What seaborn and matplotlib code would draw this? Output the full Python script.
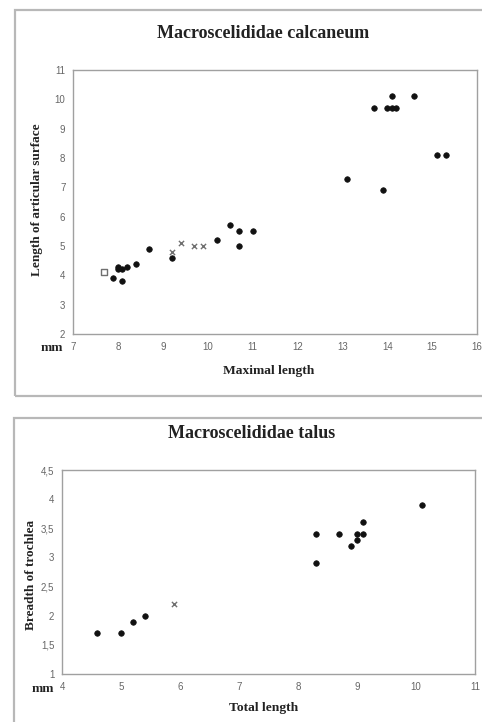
import matplotlib
matplotlib.use("Agg")
import matplotlib.pyplot as plt
import seaborn as sns
import pandas as pd
from matplotlib.patches import Rectangle

# ---- data: calcaneum ----
calc_dot_x = [7.9, 8.0, 8.0, 8.1, 8.1, 8.2, 8.4, 8.7, 9.2, 10.2, 10.5, 10.7, 10.7, 11.0,
              13.1, 13.9, 13.7, 14.0, 14.1, 14.2, 14.1, 14.6, 15.1, 15.3]
calc_dot_y = [3.9, 4.3, 4.2, 4.2, 3.8, 4.3, 4.4, 4.9, 4.6, 5.2, 5.7, 5.5, 5.0, 5.5,
              7.3, 6.9, 9.7, 9.7, 9.7, 9.7, 10.1, 10.1, 8.1, 8.1]
calc_x_x = [9.2, 9.4, 9.7, 9.9]
calc_x_y = [4.8, 5.1, 5.0, 5.0]
calc_sq_x = [7.7]
calc_sq_y = [4.1]

# ---- data: talus ----
tal_dot_x = [4.6, 5.0, 5.2, 5.4, 8.3, 8.3, 8.7, 8.9, 9.0, 9.0, 9.1, 9.1, 10.1]
tal_dot_y = [1.7, 1.7, 1.9, 2.0, 2.9, 3.4, 3.4, 3.2, 3.3, 3.4, 3.4, 3.6, 3.9]
tal_x_x = [5.9]
tal_x_y = [2.2]

calc_xticks = list(range(7, 17))
calc_yticks = list(range(2, 12))
tal_xticks = list(range(4, 12))
tal_yticks = [1, 1.5, 2, 2.5, 3, 3.5, 4, 4.5]
tal_yticklabels = ["1", "1,5", "2", "2,5", "3", "3,5", "4", "4,5"]

sns.set_style("white")
plt.rcParams["font.family"] = ["Liberation Serif", "DejaVu Serif"]

W, H = 482, 722
fig = plt.figure(figsize=(W / 100, H / 100), dpi=100)
fig.patch.set_facecolor("white")

def fx(px):
    return px / W

def fy(py):
    return 1 - py / H

# panel borders
fig.patches.append(Rectangle((fx(15), fy(396)), fx(500 - 15), fy(10) - fy(396),
                             transform=fig.transFigure, fill=False,
                             edgecolor="#b8b8b8", linewidth=1.6))
fig.patches.append(Rectangle((fx(14), fy(740)), fx(500 - 14), fy(418) - fy(740),
                             transform=fig.transFigure, fill=False,
                             edgecolor="#b8b8b8", linewidth=1.6))

def make_frame(group_dot, group_x, group_sq=None):
    rows = []
    for x, y in zip(*group_dot):
        rows.append({"x": x, "y": y, "g": "dot"})
    for x, y in zip(*group_x):
        rows.append({"x": x, "y": y, "g": "cross"})
    if group_sq is not None:
        for x, y in zip(*group_sq):
            rows.append({"x": x, "y": y, "g": "square"})
    return pd.DataFrame(rows)

def style_axes(ax, xlim, ylim, xticks, yticks, yticklabels=None):
    ax.set_xlim(*xlim)
    ax.set_ylim(*ylim)
    ax.set_xticks(xticks)
    ax.set_yticks(yticks)
    ax.set_xticklabels([str(t) for t in xticks])
    ax.set_yticklabels(yticklabels if yticklabels else [str(t) for t in yticks])
    for s in ax.spines.values():
        s.set_visible(True)
        s.set_color("#a0a0a0")
        s.set_linewidth(1.0)
    ax.tick_params(axis="both", which="both", direction="out", length=2.5, width=0.8,
                   color="#a0a0a0", labelsize=7, labelcolor="#666666", pad=3)
    for lab in ax.get_xticklabels() + ax.get_yticklabels():
        lab.set_family(["Liberation Sans", "DejaVu Sans"])
    ax.grid(False)
    ax.set_xlabel("")
    ax.set_ylabel("")
    leg = ax.get_legend()
    if leg:
        leg.remove()

def draw(ax, df):
    sub = df[df.g == "dot"]
    sns.scatterplot(data=sub, x="x", y="y", ax=ax, marker="o", s=16,
                    color="#111111", edgecolor="#111111", linewidth=0.5)
    sub = df[df.g == "cross"]
    sns.scatterplot(data=sub, x="x", y="y", ax=ax, marker="x", s=14,
                    color="#707070", linewidth=1.0)
    sub = df[df.g == "square"]
    if len(sub):
        sns.scatterplot(data=sub, x="x", y="y", ax=ax, marker="s", s=18,
                        facecolor="none", edgecolor="#707070", linewidth=1.0)

# ---- top panel ----
ax1 = fig.add_axes([fx(73), fy(334), fx(477 - 73), fy(70) - fy(334)])
df1 = make_frame((calc_dot_x, calc_dot_y), (calc_x_x, calc_x_y), (calc_sq_x, calc_sq_y))
draw(ax1, df1)
style_axes(ax1, (7, 16), (2, 11), calc_xticks, calc_yticks)

fig.text(fx(263), fy(33), "Macroscelididae calcaneum", ha="center", va="center",
         fontsize=13, fontweight="bold", color="#222222")
fig.text(fx(37), fy(200), "Length of articular surface", ha="center", va="center",
         rotation=90, fontsize=9.5, fontweight="bold", color="#222222")
fig.text(fx(269), fy(371), "Maximal length", ha="center", va="center",
         fontsize=9.7, fontweight="bold", color="#222222")
fig.text(fx(52), fy(348), "mm", ha="center", va="center",
         fontsize=9.5, fontweight="bold", color="#222222")

# ---- bottom panel ----
ax2 = fig.add_axes([fx(62), fy(674), fx(475 - 62), fy(470) - fy(674)])
df2 = make_frame((tal_dot_x, tal_dot_y), (tal_x_x, tal_x_y))
draw(ax2, df2)
style_axes(ax2, (4, 11), (1, 4.5), tal_xticks, tal_yticks, tal_yticklabels)

fig.text(fx(252), fy(434), "Macroscelididae talus", ha="center", va="center",
         fontsize=13, fontweight="bold", color="#222222")
fig.text(fx(31), fy(575), "Breadth of trochlea", ha="center", va="center",
         rotation=90, fontsize=9.5, fontweight="bold", color="#222222")
fig.text(fx(264), fy(708), "Total length", ha="center", va="center",
         fontsize=9.7, fontweight="bold", color="#222222")
fig.text(fx(43), fy(689), "mm", ha="center", va="center",
         fontsize=9.5, fontweight="bold", color="#222222")

fig.savefig("out.png", dpi=100, facecolor="white")
